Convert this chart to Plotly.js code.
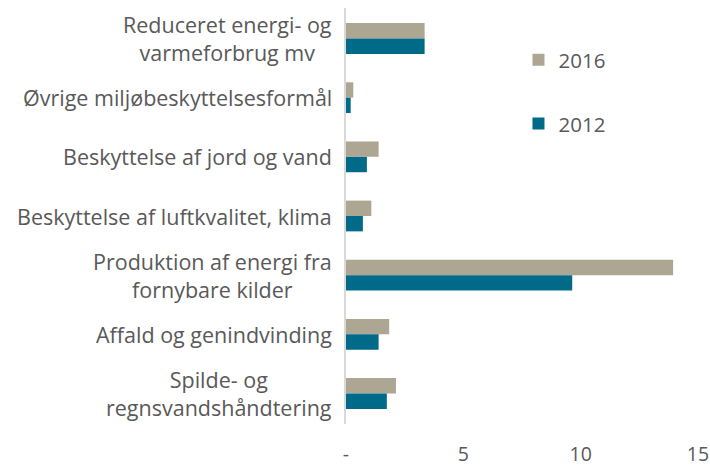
<!DOCTYPE html>
<html>
<head>
<meta charset="utf-8">
<script src="https://cdn.plot.ly/plotly-3.0.1.min.js"></script>
<style>html,body{margin:0;padding:0;background:#fff;}#chart{width:710px;height:465px;}</style>
</head>
<body>
<div id="chart"></div>
<script>
const categories = [
  "Reduceret energi- og<br>varmeforbrug mv",
  "Øvrige miljøbeskyttelsesformål",
  "Beskyttelse af jord og vand",
  "Beskyttelse af luftkvalitet, klima",
  "Produktion af energi fra<br>fornybare kilder",
  "Affald og genindvinding",
  "Spilde- og<br>regnsvandshåndtering"
];
const values2016 = [3.35, 0.31, 1.39, 1.08, 13.94, 1.84, 2.13];
const values2012 = [3.35, 0.2, 0.89, 0.72, 9.64, 1.39, 1.74];
const xTickVals = [0, 5, 10, 15];
const xTickText = ["-", "5", "10", "15"];

const FONT = "'Open Sans', sans-serif";
const TXT = "#595959";

const traces = [
  {type: "bar", orientation: "h", name: "2016", y: categories, x: values2016,
   marker: {color: "#ADA692"}, legendgroup: "a", hoverinfo: "x"},
  {type: "bar", orientation: "h", name: "2012", y: categories, x: values2012,
   marker: {color: "#006A89"}, legendgroup: "b", hoverinfo: "x"}
];

const annotations = categories.map(function (c) {
  return {
    text: c, xref: "paper", x: 0, xshift: -12, xanchor: "right",
    yref: "y", y: c, yanchor: "middle",
    showarrow: false, align: "center",
    font: {family: FONT, size: 21.5, color: TXT}
  };
});

const layout = {
  width: 710, height: 465,
  margin: {l: 346, r: 12, t: 8, b: 41},
  paper_bgcolor: "#fff", plot_bgcolor: "#fff",
  barmode: "group", bargap: 0.48, bargroupgap: 0,
  showlegend: true,
  legend: {x: 0.49, y: 0.923, xanchor: "left", yanchor: "top",
           font: {family: FONT, size: 20.5, color: TXT}, tracegroupgap: 34,
           traceorder: "grouped"},
  xaxis: {range: [0, 15], tickvals: xTickVals, ticktext: xTickText,
          showgrid: false, zeroline: false, showline: false, ticks: "",
          ticklabelstandoff: 16,
          tickfont: {family: FONT, size: 19.5, color: TXT}, fixedrange: true},
  yaxis: {autorange: "reversed", showticklabels: false, showgrid: false,
          zeroline: false, showline: true, linecolor: "#d9d9d9", linewidth: 2,
          ticks: "", fixedrange: true},
  annotations: annotations
};

Plotly.newPlot("chart", traces, layout, {displayModeBar: false, staticPlot: true});
</script>
</body>
</html>
